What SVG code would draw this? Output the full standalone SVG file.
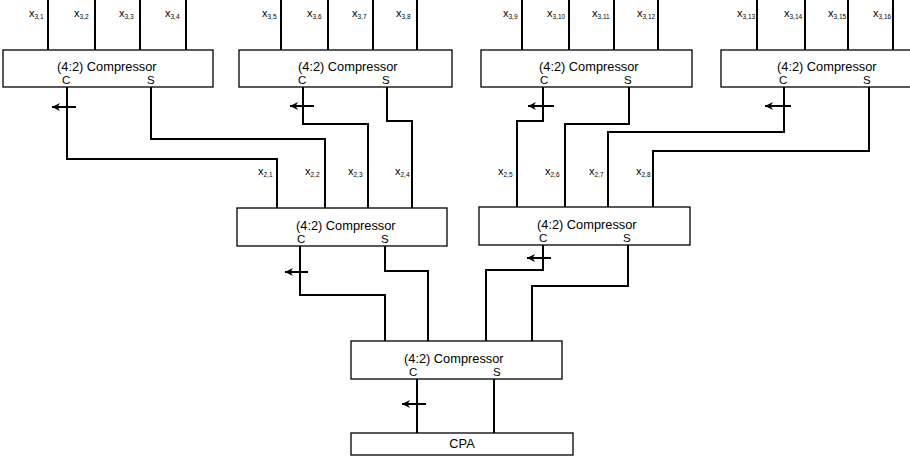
<svg xmlns="http://www.w3.org/2000/svg" width="910" height="466" viewBox="0 0 910 466">
<defs>
<style>
.box{fill:#fff;stroke:#000;stroke-width:1.3}
.wire{fill:none;stroke:#000;stroke-width:2}
.arr{fill:none;stroke:#000;stroke-width:2;marker-end:url(#ah)}
.t{font-family:"Liberation Sans",Arial,Helvetica,sans-serif;font-size:12.8px;fill:#000}
.p{font-family:"Liberation Sans",Arial,Helvetica,sans-serif;font-size:11.5px;fill:#000}
.lbl{font-family:"Liberation Sans",Arial,Helvetica,sans-serif;font-size:11px;fill:#000}
.sub{font-size:6.5px}
</style>
<marker id="ah" markerUnits="userSpaceOnUse" viewBox="0 0 10 10" markerWidth="8" markerHeight="8" refX="10" refY="5" orient="auto">
<path d="M0,0 L10,5 L0,10 L3,5 z" fill="#000"/>
</marker>
</defs>
<rect width="910" height="466" fill="#fff"/>

<g id="connectors">
<path class="wire" d="M48,0 V50 M95,0 V50 M140,0 V50 M186,0 V50"/>
<path class="wire" d="M281,0 V50 M328,0 V50 M373,0 V50 M417,0 V50"/>
<path class="wire" d="M522,0 V50 M569,0 V50 M614,0 V50 M658,0 V50"/>
<path class="wire" d="M757,0 V50 M805,0 V50 M848,0 V50 M893,0 V50"/>
<path class="wire" d="M67,87 V159 H277 V208"/>
<path class="wire" d="M151,87 V139 H325 V208"/>
<path class="wire" d="M303,87 V124 H368 V208"/>
<path class="wire" d="M387,87 V121 H412 V208"/>
<path class="wire" d="M543,87 V121 H517 V207"/>
<path class="wire" d="M629,87 V124 H565 V207"/>
<path class="wire" d="M784,87 V132 H608 V207"/>
<path class="wire" d="M869,87 V151 H653 V207"/>
<path class="wire" d="M300,246 V295 H385 V341"/>
<path class="wire" d="M385,246 V271 H428 V341"/>
<path class="wire" d="M543,245 V270 H486 V341"/>
<path class="wire" d="M628,245 V286 H532 V341"/>
<path class="wire" d="M417,379 V433"/>
<path class="wire" d="M494,379 V433"/>
<path class="arr" d="M76,107 H52"/>
<path class="arr" d="M314,106 H290"/>
<path class="arr" d="M554,106 H528"/>
<path class="arr" d="M791,106 H765"/>
<path class="arr" d="M308,272 H285"/>
<path class="arr" d="M551,258 H527"/>
<path class="arr" d="M426,404 H402"/>
<g id="labels">
<text class="lbl" x="29" y="17">x<tspan class="sub" dy="1.5">3,1</tspan></text>
<text class="lbl" x="74" y="17">x<tspan class="sub" dy="1.5">3,2</tspan></text>
<text class="lbl" x="119" y="17">x<tspan class="sub" dy="1.5">3,3</tspan></text>
<text class="lbl" x="165" y="17">x<tspan class="sub" dy="1.5">3,4</tspan></text>
<text class="lbl" x="262" y="17">x<tspan class="sub" dy="1.5">3,5</tspan></text>
<text class="lbl" x="307" y="17">x<tspan class="sub" dy="1.5">3,6</tspan></text>
<text class="lbl" x="352" y="17">x<tspan class="sub" dy="1.5">3,7</tspan></text>
<text class="lbl" x="396" y="17">x<tspan class="sub" dy="1.5">3,8</tspan></text>
<text class="lbl" x="503" y="17">x<tspan class="sub" dy="1.5">3,9</tspan></text>
<text class="lbl" x="547" y="17">x<tspan class="sub" dy="1.5">3,10</tspan></text>
<text class="lbl" x="592" y="17">x<tspan class="sub" dy="1.5">3,11</tspan></text>
<text class="lbl" x="637" y="17">x<tspan class="sub" dy="1.5">3,12</tspan></text>
<text class="lbl" x="737" y="17">x<tspan class="sub" dy="1.5">3,13</tspan></text>
<text class="lbl" x="784" y="17">x<tspan class="sub" dy="1.5">3,14</tspan></text>
<text class="lbl" x="828" y="17">x<tspan class="sub" dy="1.5">3,15</tspan></text>
<text class="lbl" x="873" y="17">x<tspan class="sub" dy="1.5">3,16</tspan></text>
<text class="lbl" x="258" y="175">x<tspan class="sub" dy="1.5">2,1</tspan></text>
<text class="lbl" x="305" y="175">x<tspan class="sub" dy="1.5">2,2</tspan></text>
<text class="lbl" x="348" y="175">x<tspan class="sub" dy="1.5">2,3</tspan></text>
<text class="lbl" x="395" y="175">x<tspan class="sub" dy="1.5">2,4</tspan></text>
<text class="lbl" x="498" y="175">x<tspan class="sub" dy="1.5">2,5</tspan></text>
<text class="lbl" x="545" y="175">x<tspan class="sub" dy="1.5">2,6</tspan></text>
<text class="lbl" x="589" y="175">x<tspan class="sub" dy="1.5">2,7</tspan></text>
<text class="lbl" x="636" y="175">x<tspan class="sub" dy="1.5">2,8</tspan></text>
</g>
</g>

<g id="comp1">
<rect class="box" x="3" y="50" width="210" height="37"/>
<text class="t" x="57" y="71">(4:2) Compressor</text>
<text class="p" x="62" y="84">C</text>
<text class="p" x="147" y="84">S</text>
</g>
<g id="comp2">
<rect class="box" x="239" y="50" width="213" height="37"/>
<text class="t" x="298" y="71">(4:2) Compressor</text>
<text class="p" x="298" y="84">C</text>
<text class="p" x="382" y="84">S</text>
</g>
<g id="comp3">
<rect class="box" x="481" y="50" width="211" height="37"/>
<text class="t" x="539" y="71">(4:2) Compressor</text>
<text class="p" x="540" y="84">C</text>
<text class="p" x="624" y="84">S</text>
</g>
<g id="comp4">
<rect class="box" x="721" y="50" width="211" height="37"/>
<text class="t" x="777" y="71">(4:2) Compressor</text>
<text class="p" x="779" y="84">C</text>
<text class="p" x="863" y="84">S</text>
</g>
<g id="compA">
<rect class="box" x="237" y="208" width="210" height="38"/>
<text class="t" x="296" y="230">(4:2) Compressor</text>
<text class="p" x="297" y="243">C</text>
<text class="p" x="381" y="243">S</text>
</g>
<g id="compB">
<rect class="box" x="479" y="207" width="211" height="38"/>
<text class="t" x="537" y="229">(4:2) Compressor</text>
<text class="p" x="539" y="242">C</text>
<text class="p" x="623" y="242">S</text>
</g>
<g id="compC">
<rect class="box" x="351" y="341" width="211" height="38"/>
<text class="t" x="404" y="363">(4:2) Compressor</text>
<text class="p" x="409" y="376">C</text>
<text class="p" x="493" y="376">S</text>
</g>
<g id="cpa">
<rect class="box" x="351" y="433" width="222" height="22"/>
<text class="t" x="462" y="448" text-anchor="middle">CPA</text>
</g>
</svg>
